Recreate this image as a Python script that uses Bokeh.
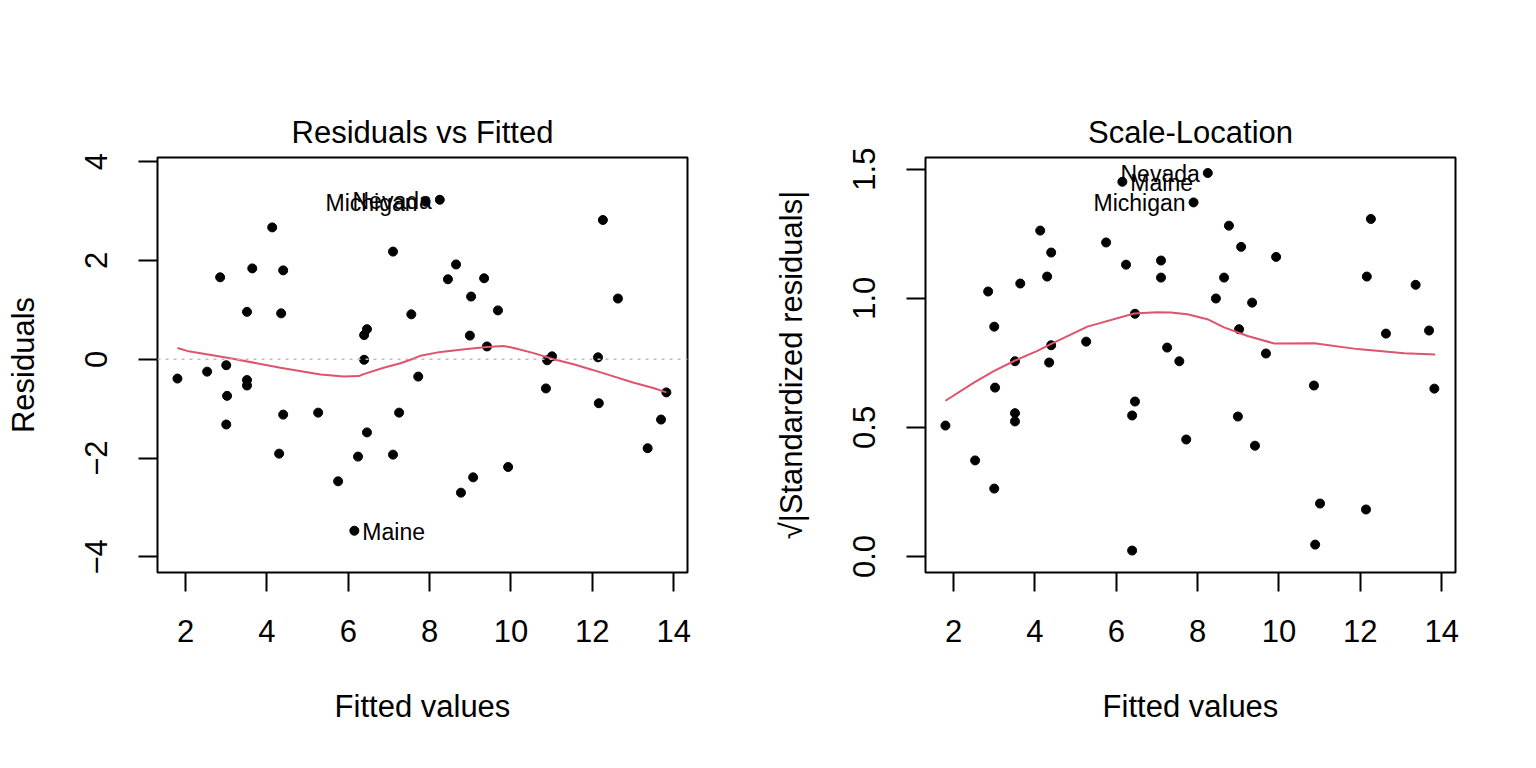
from bokeh.plotting import figure
from bokeh.models import Range1d, FixedTicker, Span
from bokeh.layouts import row
from bokeh.embed import file_html
from bokeh.resources import INLINE
from bokeh.core.properties import value

# ---- data ----
fitted = [4.13, 2.85, 3.64, 4.40, 3.51, 4.35, 7.10, 7.55, 6.46, 6.39,
          6.39, 2.53, 3.00, 7.90, 8.25, 12.26, 8.65, 8.45, 9.34, 9.02,
          9.68, 12.63, 8.99, 9.41, 11.01, 10.89, 12.14, 1.80, 3.51, 3.51,
          3.02, 3.00, 4.40, 5.26, 4.30, 7.25, 6.46, 6.24, 7.10, 5.75,
          6.15, 7.72, 10.86, 12.16, 13.82, 13.69, 13.36, 9.93, 9.07, 8.77]
residuals = [2.67, 1.66, 1.84, 1.80, 0.96, 0.93, 2.18, 0.91, 0.61, 0.49,
             -0.01, -0.25, -0.12, 3.19, 3.23, 2.82, 1.92, 1.62, 1.64, 1.27,
             0.99, 1.23, 0.48, 0.26, 0.06, -0.02, 0.04, -0.39, -0.42, -0.53,
             -0.74, -1.32, -1.12, -1.08, -1.91, -1.08, -1.48, -1.97, -1.93, -2.47,
             -3.47, -0.35, -0.59, -0.89, -0.67, -1.22, -1.80, -2.18, -2.39, -2.70]
sqrt_std_resid = [1.262, 1.026, 1.057, 1.177, 0.756, 0.751, 1.146, 0.756, 0.600, 0.546,
                  0.023, 0.372, 0.263, 1.371, 1.485, 1.307, 1.080, 0.999, 0.983, 0.880,
                  0.786, 0.863, 0.542, 0.429, 0.205, 0.046, 0.182, 0.507, 0.523, 0.555,
                  0.654, 0.890, 0.818, 0.832, 1.084, 0.809, 0.940, 1.130, 1.080, 1.216,
                  1.451, 0.453, 0.662, 1.084, 0.650, 0.875, 1.052, 1.160, 1.199, 1.281]
label_names = ["Michigan", "Nevada", "Maine"]
label_index = [13, 14, 40]

smooth1_x = [1.80, 2.04, 3.10, 4.33, 5.32, 5.89, 6.26, 6.38, 6.87, 7.28, 7.53, 7.77, 8.27,
             8.92, 9.41, 9.82, 10.07, 10.56, 11.05, 11.54, 11.99, 12.50, 13.00, 13.50, 13.82]
smooth1_y = [0.23, 0.17, 0.02, -0.17, -0.31, -0.35, -0.34, -0.30, -0.17, -0.08, -0.01, 0.07, 0.15,
             0.21, 0.25, 0.27, 0.23, 0.125, 0.0, -0.10, -0.21, -0.34, -0.47, -0.58, -0.67]
smooth2_x = [1.80, 2.51, 3.00, 3.50, 4.06, 4.39, 5.29, 6.44, 7.00, 7.34, 7.75, 8.24, 8.65,
             9.23, 9.88, 10.87, 11.93, 13.08, 13.84]
smooth2_y = [0.603, 0.674, 0.719, 0.758, 0.796, 0.822, 0.890, 0.941, 0.946, 0.945, 0.938, 0.919,
             0.887, 0.854, 0.825, 0.826, 0.803, 0.787, 0.782]

x_ticks = [2, 4, 6, 8, 10, 12, 14]
y1_ticks = [-4, -2, 0, 2, 4]
y2_ticks = [0.0, 0.5, 1.0, 1.5]
y2_tick_labels = ["0.0", "0.5", "1.0", "1.5"]

FONT = "Liberation Sans"
RED = "#DF536B"

W, H = 768, 768
FW, FH = 530, 415
LEFT, TOP = 157, 157


def make_fig(title, y_range, ylabel, yticks):
    p = figure(width=W, height=H, x_range=Range1d(1.31, 14.34), y_range=y_range,
               output_backend="svg", toolbar_location=None,
               min_border_left=LEFT, min_border_right=W - LEFT - FW,
               min_border_top=TOP, min_border_bottom=H - TOP - FH)
    p.title.text = title
    p.title.align = "center"
    p.title.text_font = FONT
    p.title.text_font_size = "31px"
    p.title.text_font_style = "normal"
    p.title.text_color = "black"
    p.title.standoff = 15
    p.grid.visible = False
    p.outline_line_color = "black"
    p.outline_line_width = 2
    p.outline_line_alpha = 1.0
    p.background_fill_color = "white"
    p.border_fill_color = "white"
    for ax in (p.xaxis[0], p.yaxis[0]):
        ax.axis_line_color = None
        ax.major_tick_line_width = 2
        ax.major_tick_line_color = "black"
        ax.major_tick_out = 19
        ax.major_tick_in = 0
        ax.minor_tick_line_color = None
        ax.major_label_text_font = FONT
        ax.major_label_text_font_size = "31px"
        ax.major_label_text_color = "black"
        ax.axis_label_text_font = FONT
        ax.axis_label_text_font_size = "31px"
        ax.axis_label_text_font_style = "normal"
        ax.axis_label_text_color = "black"
    p.xaxis.ticker = FixedTicker(ticks=x_ticks)
    p.xaxis.axis_label = "Fitted values"
    p.xaxis.major_label_standoff = 28
    p.xaxis.axis_label_standoff = 44
    p.yaxis.ticker = FixedTicker(ticks=yticks)
    p.yaxis.axis_label = ylabel
    p.yaxis.major_label_orientation = "vertical"
    p.yaxis.major_label_standoff = 31
    p.yaxis.axis_label_standoff = 42
    return p


def add_labels(p, yvals):
    mid = (min(fitted) + max(fitted)) / 2
    lx, ly, lt, rx, ry, rt = [], [], [], [], [], []
    for name, i in zip(label_names, label_index):
        if fitted[i] > mid:
            lx.append(fitted[i]); ly.append(yvals[i]); lt.append(name)
        else:
            rx.append(fitted[i]); ry.append(yvals[i]); rt.append(name)
    common = dict(text_font=value(FONT), text_font_size="23px", text_color="black",
                  text_baseline="alphabetic", y_offset=1)
    if lx:
        p.text(x=lx, y=ly, text=lt, text_align="right", x_offset=-8, **common)
    if rx:
        p.text(x=rx, y=ry, text=rt, text_align="left", x_offset=8, **common)


# Residuals vs Fitted
p1 = make_fig("Residuals vs Fitted", Range1d(-4.316, 4.085), "Residuals", y1_ticks)
p1.scatter(fitted, residuals, size=9, color="black")
p1.add_layout(Span(location=0, dimension="width", line_color="#BEBEBE",
                   line_dash="3 5", line_width=1.5))
p1.line(smooth1_x, smooth1_y, line_color=RED, line_width=2)
add_labels(p1, residuals)

# Scale-Location
p2 = make_fig("Scale-Location", Range1d(-0.062, 1.545),
              "\u221a|Standardized residuals|", y2_ticks)
p2.yaxis.major_label_overrides = {t: s for t, s in zip(y2_ticks, y2_tick_labels)}
p2.scatter(fitted, sqrt_std_resid, size=9, color="black")
p2.line(smooth2_x, smooth2_y, line_color=RED, line_width=2)
add_labels(p2, sqrt_std_resid)

layout = row(p1, p2)
open("out.html", "w").write(file_html(layout, INLINE))
